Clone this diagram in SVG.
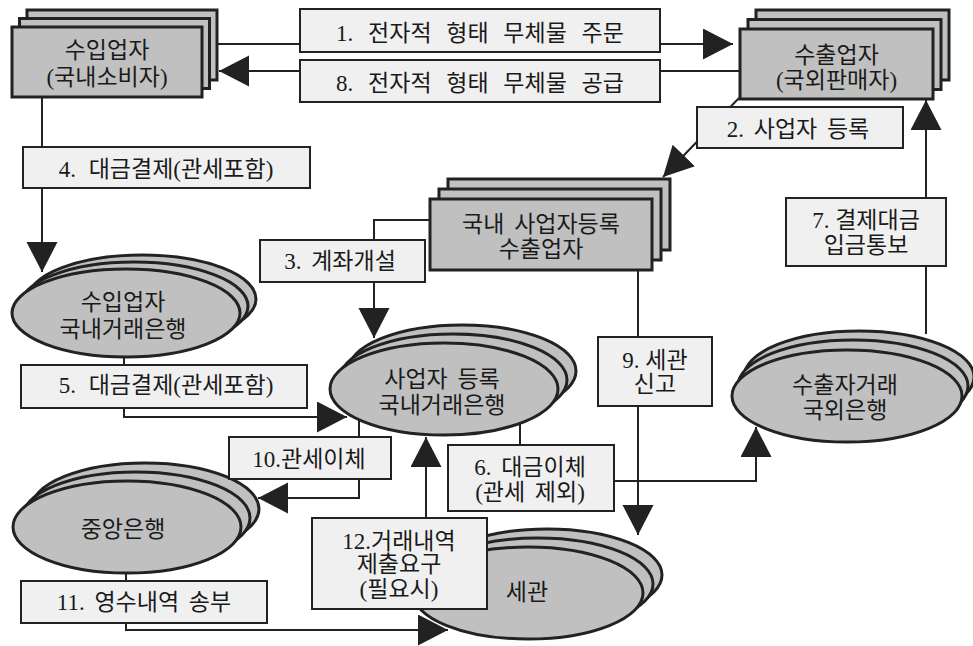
<svg xmlns="http://www.w3.org/2000/svg" width="973" height="646" viewBox="0 0 973 646">
  <style>
    .nd { fill: #c0c0c0; stroke: #222; stroke-width: 3; }
    .lb { fill: #f0f0f0; stroke: #222; stroke-width: 2; }
    .cn { fill: none; stroke: #222; stroke-width: 2; marker-end: url(#ah); }
    text { font-family: "Liberation Serif", "Noto Sans CJK KR", serif; font-size: 23px; fill: #1a1a1a; text-anchor: middle; }
    .ws { word-spacing: 4px; }
    .wm { word-spacing: 7px; }
    .wt { word-spacing: 9px; }
  </style>
  <defs>
    <marker id="ah" markerUnits="userSpaceOnUse" markerWidth="32" markerHeight="32" refX="30" refY="15.5" orient="auto">
      <path d="M0,0 L30,15.5 L0,31 Z" fill="#222"/>
    </marker>
  </defs>
  <rect width="973" height="646" fill="#fff"/>

  <!-- stacked nodes -->
  <g id="importer">
    <rect class="nd" x="27" y="10" width="190" height="70"/>
    <rect class="nd" x="19.5" y="18.5" width="190" height="70"/>
    <rect class="nd" x="12" y="27" width="190" height="70"/>
    <text x="107" y="58">수입업자</text>
    <text x="107" y="85">(국내소비자)</text>
  </g>
  <g id="exporter">
    <rect class="nd" x="756" y="10" width="193" height="70"/>
    <rect class="nd" x="748" y="19.5" width="193" height="70"/>
    <rect class="nd" x="740" y="29" width="193" height="70"/>
    <text x="836.5" y="63">수출업자</text>
    <text x="836.5" y="88">(국외판매자)</text>
  </g>
  <g id="domestic-exporter">
    <rect class="nd" x="448" y="179" width="222" height="71"/>
    <rect class="nd" x="439" y="189" width="222" height="71"/>
    <rect class="nd" x="430" y="199" width="222" height="71"/>
    <text class="ws" x="541" y="232">국내 사업자등록</text>
    <text x="541" y="257">수출업자</text>
  </g>
  <g id="importer-bank">
    <ellipse class="nd" cx="142" cy="299" rx="114" ry="44"/>
    <ellipse class="nd" cx="134" cy="306" rx="114" ry="44"/>
    <ellipse class="nd" cx="126" cy="313" rx="114" ry="44"/>
    <text x="123" y="310">수입업자</text>
    <text x="123" y="337">국내거래은행</text>
  </g>
  <g id="registered-bank">
    <ellipse class="nd" cx="462" cy="371" rx="114" ry="46"/>
    <ellipse class="nd" cx="453" cy="380" rx="114" ry="46"/>
    <ellipse class="nd" cx="444" cy="389" rx="114" ry="46"/>
    <text class="ws" x="442" y="387">사업자 등록</text>
    <text x="442" y="413">국내거래은행</text>
  </g>
  <g id="foreign-bank">
    <ellipse class="nd" cx="859" cy="377" rx="115" ry="46"/>
    <ellipse class="nd" cx="853" cy="386" rx="115" ry="46"/>
    <ellipse class="nd" cx="847" cy="396" rx="115" ry="46"/>
    <text x="845" y="393">수출자거래</text>
    <text x="845" y="418">국외은행</text>
  </g>
  <g id="central-bank">
    <ellipse class="nd" cx="145" cy="509" rx="114" ry="46"/>
    <ellipse class="nd" cx="136" cy="518" rx="114" ry="46"/>
    <ellipse class="nd" cx="127" cy="527" rx="114" ry="46"/>
    <text x="123" y="537">중앙은행</text>
  </g>
  <g id="customs">
    <ellipse class="nd" cx="547" cy="575" rx="115" ry="46"/>
    <ellipse class="nd" cx="538" cy="584" rx="115" ry="46"/>
    <ellipse class="nd" cx="528" cy="593" rx="115" ry="46"/>
    <text x="527" y="600">세관</text>
  </g>

  <!-- connectors -->
  <g id="connectors">
    <path class="cn" d="M217,44 H733"/>
    <path class="cn" d="M740,71 H219"/>
    <path class="cn" d="M739,98 L663,177"/>
    <path class="cn" d="M926,334 V100"/>
    <path class="cn" d="M42,97 V272"/>
    <path class="cn" d="M430,220 H374 V338"/>
    <path class="cn" d="M638,270 V535"/>
    <path class="cn" d="M124,357 V417 H347"/>
    <path class="cn" d="M359,420 V498 H258"/>
    <path class="cn" d="M426,518 V437"/>
    <path class="cn" d="M520,423 V481 H756 V427"/>
    <path class="cn" d="M126,573 V630 H448"/>
  </g>

  <!-- step labels -->
  <g id="step1">
    <rect class="lb" x="300" y="9" width="360" height="43"/>
    <text class="wt" x="480" y="41">1. 전자적 형태 무체물 주문</text>
  </g>
  <g id="step8">
    <rect class="lb" x="300" y="60" width="360" height="42"/>
    <text class="wt" x="480" y="91">8. 전자적 형태 무체물 공급</text>
  </g>
  <g id="step2">
    <rect class="lb" x="697" y="107" width="206" height="41"/>
    <text class="ws" x="798" y="137">2. 사업자 등록</text>
  </g>
  <g id="step4">
    <rect class="lb" x="23" y="147" width="287" height="41"/>
    <text class="wm" x="166" y="177">4. 대금결제(관세포함)</text>
  </g>
  <g id="step3">
    <rect class="lb" x="260" y="240" width="165" height="42"/>
    <text class="ws" x="340" y="269">3. 계좌개설</text>
  </g>
  <g id="step7">
    <rect class="lb" x="786" y="198" width="160" height="68"/>
    <text x="866" y="228">7. 결제대금</text>
    <text x="866" y="253">입금통보</text>
  </g>
  <g id="step5">
    <rect class="lb" x="21" y="365" width="286" height="43"/>
    <text class="wm" x="166" y="393">5. 대금결제(관세포함)</text>
  </g>
  <g id="step9">
    <rect class="lb" x="598" y="337" width="114" height="69"/>
    <text x="655" y="368">9. 세관</text>
    <text x="655" y="392">신고</text>
  </g>
  <g id="step10">
    <rect class="lb" x="229" y="437" width="162" height="42"/>
    <text x="309" y="467">10.관세이체</text>
  </g>
  <g id="step6">
    <rect class="lb" x="448" y="445" width="166" height="66"/>
    <text class="ws" x="530" y="475">6. 대금이체</text>
    <text class="ws" x="530" y="500">(관세 제외)</text>
  </g>
  <g id="step12">
    <rect class="lb" x="312" y="518" width="175" height="91"/>
    <text x="399" y="549">12.거래내역</text>
    <text x="399" y="572">제출요구</text>
    <text x="399" y="597">(필요시)</text>
  </g>
  <g id="step11">
    <rect class="lb" x="21" y="581" width="246" height="42"/>
    <text class="ws" x="144" y="610">11. 영수내역 송부</text>
  </g>
</svg>
